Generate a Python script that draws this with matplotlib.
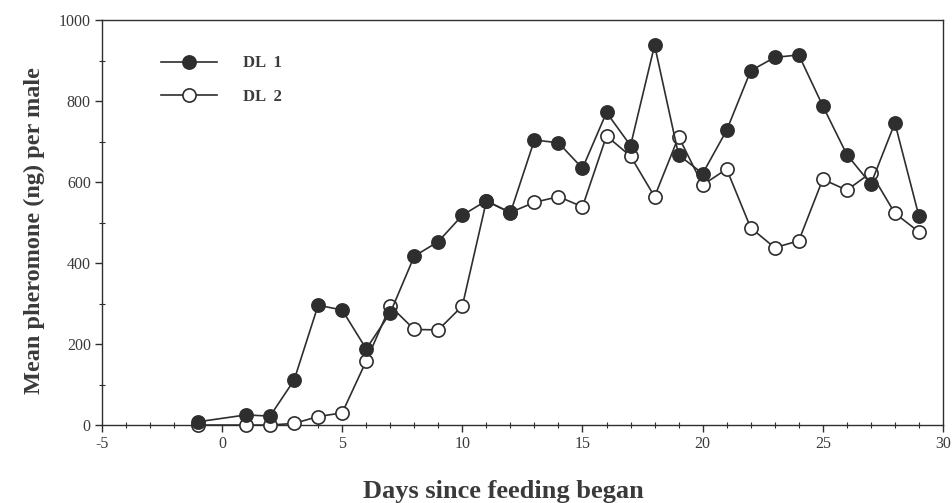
import numpy as np
from matplotlib import pyplot as plt
from matplotlib.ticker import MultipleLocator


_OUTPUT_PNG_FILEPATH = "out.png"

days = [-1, 1, 2, 3, 4, 5, 6, 7, 8, 9, 10, 11, 12, 13, 14, 15, 16, 17, 18, 19,
        20, 21, 22, 23, 24, 25, 26, 27, 28, 29]
dl1 = [8, 25, 22, 111, 296, 284, 188, 277, 417, 453, 518, 554, 524, 704, 697,
       634, 772, 690, 938, 667, 621, 728, 875, 908, 914, 788, 668, 595, 746, 516]
dl2 = [0, 0, 0, 4, 21, 30, 158, 294, 236, 235, 294, 553, 525, 550, 564, 539,
       714, 664, 564, 712, 593, 632, 487, 438, 455, 607, 580, 623, 523, 477]

x_ticks = [-5, 0, 5, 10, 15, 20, 25, 30]
y_ticks = [0, 200, 400, 600, 800, 1000]

INK = "#2e2e2e"
TXT = "#3a3a3a"
SERIF = "Liberation Serif"

plt.rcParams["font.family"] = SERIF

fig = plt.figure(figsize=(9.52, 5.03), dpi=100)
ax = fig.add_axes([0.107, 0.155, 0.8835, 0.805])

# open circles first, filled on top
ax.plot(days, dl2, color=INK, lw=1.2, marker="o", ms=9.5,
        mfc="white", mec=INK, mew=1.2, label="DL  2", zorder=3, clip_on=False)
ax.plot(days, dl1, color=INK, lw=1.2, marker="o", ms=9.5,
        mfc=INK, mec=INK, mew=1.2, label="DL  1", zorder=4, clip_on=False)

ax.set_xlim(-5, 30)
ax.set_ylim(0, 1000)
ax.set_xticks(x_ticks)
ax.set_yticks(y_ticks)
ax.xaxis.set_minor_locator(MultipleLocator(1))
ax.yaxis.set_minor_locator(MultipleLocator(100))
ax.set_xticklabels([str(t) for t in x_ticks])
ax.set_yticklabels([str(t) for t in y_ticks])

ax.tick_params(which="major", direction="out", length=5, width=1, color=INK,
               labelsize=11.5, labelcolor=TXT, pad=3)
ax.tick_params(which="minor", direction="inout", length=4, width=0.8, color=INK)

for sp in ax.spines.values():
    sp.set_color(INK)
    sp.set_linewidth(1.0)

ax.set_xlabel("Days since feeding began", fontsize=19, fontweight="bold",
              color=TXT, labelpad=20, x=0.477)
ax.set_ylabel("Mean pheromone (ng) per male", fontsize=17.5, fontweight="bold",
              color=TXT, labelpad=10, y=0.48)

handles, labels = ax.get_legend_handles_labels()
leg = ax.legend(handles[::-1], labels[::-1], loc="upper left",
                bbox_to_anchor=(0.052, 0.95), frameon=False,
                handlelength=3.4, labelspacing=1.05, handletextpad=1.55,
                prop={"family": SERIF, "weight": "bold", "size": 12})
for t in leg.get_texts():
    t.set_color(TXT)

fig.savefig(_OUTPUT_PNG_FILEPATH, dpi=100)
plt.close(fig)
